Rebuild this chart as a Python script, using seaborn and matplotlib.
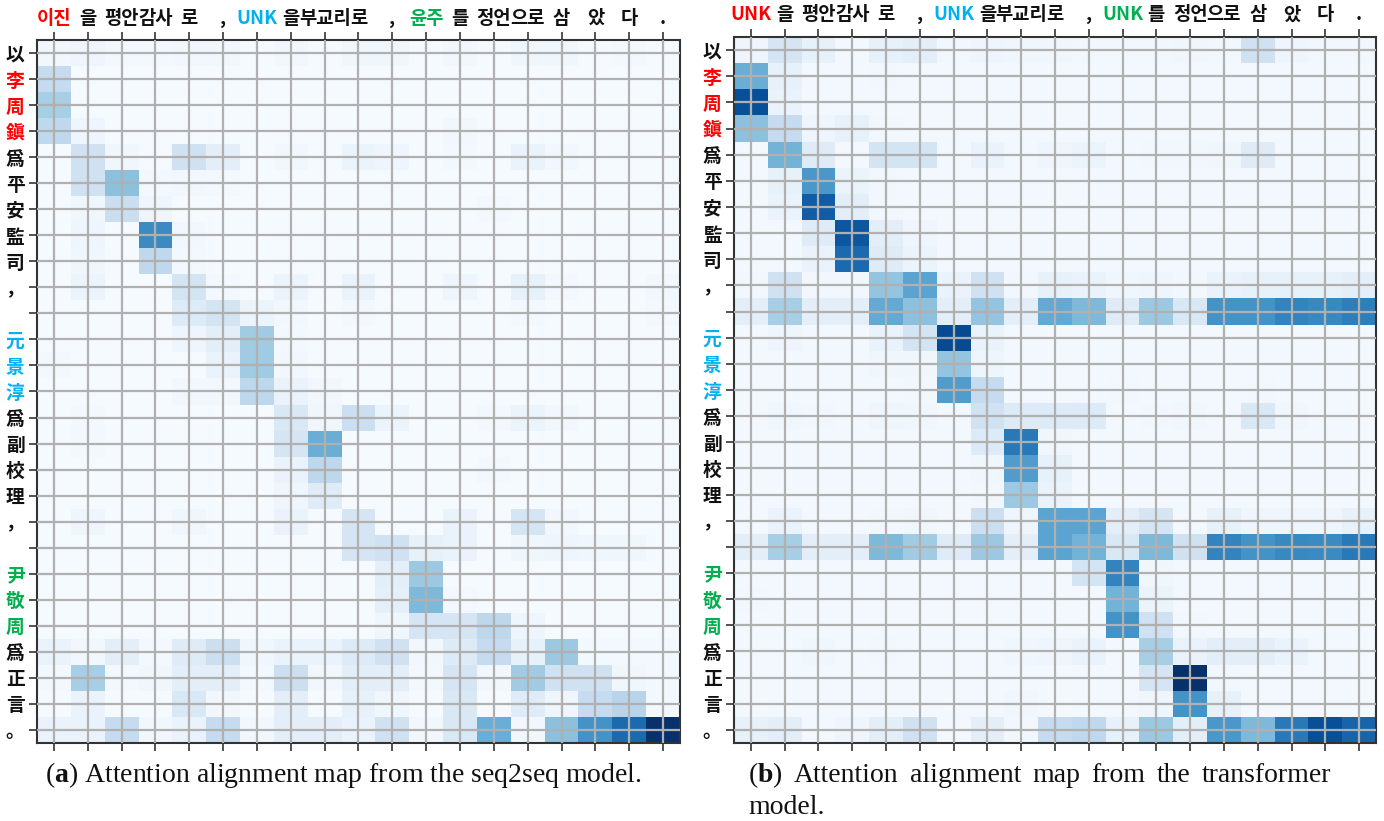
import numpy as np
import matplotlib
matplotlib.use('Agg')
import matplotlib.pyplot as plt
import seaborn as sns

# source (Hanja) tokens, rows of both maps
src_tokens = ['以', '李', '周', '鎭', '爲', '平', '安', '監', '司', '，', '',
              '元', '景', '淳', '爲', '副', '校', '理', '，', '',
              '尹', '敬', '周', '爲', '正', '言', '。']
src_colors = ['k', 'r', 'r', 'r', 'k', 'k', 'k', 'k', 'k', 'k', 'k',
              'b', 'b', 'b', 'k', 'k', 'k', 'k', 'k', 'k',
              'g', 'g', 'g', 'k', 'k', 'k', 'k']

# target (Korean) tokens
tgt_seq2seq = ['이진', '을', '평안', '감사', '로', ',', 'UNK', '을', '부교리', '로', ',',
               '윤주', '를', '정언', '으로', '삼', '았', '다', '.']
tgt_transformer = ['UNK', '을', '평안', '감사', '로', ',', 'UNK', '을', '부교리', '로', ',',
                   'UNK', '를', '정언', '으로', '삼', '았', '다', '.']
tgt_colors = ['r', 'k', 'k', 'k', 'k', 'k', 'b', 'k', 'k', 'k', 'k',
              'g', 'k', 'k', 'k', 'k', 'k', 'k', 'k']

palette = {'k': '#111111', 'r': '#ff0000', 'b': '#00b0f0', 'g': '#00b050'}

seq2seq_attn = [
    [.03, .05, .02, .02, .03, .03, .01, .03, .01, .04, .04, .01, .03, .01, .04, .04, .01, .02, .01],
    [.25, .01, .01, .01, .01, .01, .01, .01, .01, .01, .01, .01, .01, .01, .01, .01, .01, .01, .01],
    [.35, .01, .01, .01, .01, .01, .01, .01, .01, .01, .01, .01, .01, .01, .01, .01, .01, .01, .01],
    [.27, .05, .01, .01, .01, .01, .01, .01, .01, .01, .01, .01, .03, .01, .01, .01, .01, .01, .01],
    [.01, .20, .04, .01, .20, .10, .01, .03, .01, .06, .05, .01, .02, .01, .07, .03, .01, .01, .01],
    [.01, .20, .42, .02, .03, .02, .01, .01, .01, .01, .01, .01, .01, .01, .01, .01, .01, .01, .01],
    [.01, .04, .23, .05, .01, .01, .01, .01, .01, .01, .01, .01, .01, .02, .01, .01, .01, .01, .01],
    [.01, .05, .01, .65, .03, .01, .01, .01, .01, .01, .01, .01, .01, .01, .01, .01, .01, .01, .01],
    [.01, .04, .01, .27, .02, .01, .01, .01, .01, .01, .01, .01, .01, .01, .01, .01, .01, .01, .01],
    [.01, .06, .01, .01, .18, .02, .01, .06, .01, .07, .01, .01, .05, .01, .08, .02, .01, .01, .03],
    [.01, .01, .01, .01, .13, .18, .06, .03, .01, .02, .01, .01, .01, .01, .02, .01, .01, .01, .02],
    [.01, .01, .01, .01, .05, .10, .37, .02, .01, .01, .01, .01, .01, .01, .01, .01, .01, .01, .01],
    [.02, .01, .01, .01, .01, .07, .37, .03, .01, .01, .01, .01, .01, .01, .01, .01, .01, .01, .01],
    [.01, .01, .01, .01, .03, .03, .28, .07, .03, .01, .01, .01, .01, .01, .01, .01, .01, .01, .01],
    [.01, .02, .01, .01, .01, .01, .01, .15, .04, .22, .06, .01, .01, .02, .06, .03, .01, .01, .01],
    [.01, .02, .01, .01, .01, .01, .01, .17, .50, .01, .01, .01, .01, .01, .01, .01, .01, .01, .01],
    [.01, .01, .01, .01, .01, .01, .01, .07, .28, .01, .01, .01, .01, .02, .01, .01, .01, .01, .01],
    [.01, .01, .01, .01, .01, .01, .01, .05, .12, .01, .01, .01, .01, .01, .01, .01, .01, .01, .01],
    [.01, .05, .01, .01, .04, .01, .01, .07, .01, .17, .01, .01, .07, .01, .17, .03, .01, .01, .01],
    [.01, .01, .01, .01, .01, .01, .01, .01, .01, .17, .20, .08, .07, .01, .04, .05, .04, .04, .01],
    [.01, .01, .01, .01, .01, .01, .01, .01, .01, .01, .10, .38, .01, .01, .01, .01, .01, .01, .01],
    [.01, .01, .01, .01, .01, .01, .01, .01, .01, .01, .09, .45, .02, .01, .01, .01, .01, .01, .01],
    [.01, .01, .01, .01, .01, .01, .01, .01, .01, .01, .04, .17, .17, .28, .05, .01, .01, .01, .01],
    [.07, .03, .10, .02, .12, .22, .04, .07, .07, .13, .20, .03, .13, .25, .08, .38, .02, .02, .02],
    [.02, .35, .02, .04, .10, .10, .02, .22, .03, .10, .10, .02, .17, .03, .37, .20, .20, .04, .02],
    [.01, .07, .01, .01, .15, .03, .01, .10, .01, .08, .04, .01, .15, .01, .12, .05, .25, .30, .02],
    [.07, .07, .25, .03, .07, .25, .03, .10, .10, .07, .20, .03, .15, .50, .03, .42, .62, .78, 1.0],
]

transformer_attn = [
    [.05, .17, .08, .02, .08, .10, .03, .05, .04, .04, .03, .03, .03, .04, .03, .20, .05, .03, .03],
    [.50, .08, .02, .02, .03, .02, .02, .02, .02, .02, .02, .02, .02, .02, .02, .02, .02, .02, .02],
    [.88, .07, .02, .02, .02, .02, .02, .02, .02, .02, .02, .02, .02, .02, .02, .02, .02, .02, .02],
    [.42, .25, .05, .08, .03, .02, .02, .02, .02, .02, .02, .02, .02, .02, .02, .02, .02, .02, .02],
    [.02, .48, .12, .02, .18, .18, .02, .07, .02, .05, .06, .02, .03, .03, .04, .12, .02, .02, .02],
    [.02, .08, .60, .06, .03, .02, .02, .02, .02, .02, .02, .02, .02, .02, .02, .02, .02, .02, .02],
    [.02, .07, .83, .10, .03, .02, .02, .02, .02, .02, .02, .02, .02, .02, .02, .02, .02, .02, .02],
    [.02, .02, .12, .85, .10, .05, .02, .02, .02, .02, .02, .02, .02, .02, .02, .02, .02, .02, .02],
    [.02, .02, .07, .78, .12, .06, .02, .02, .02, .02, .02, .02, .02, .02, .02, .02, .02, .02, .02],
    [.03, .20, .03, .03, .40, .55, .07, .20, .03, .08, .07, .04, .05, .03, .07, .08, .08, .08, .10],
    [.10, .35, .10, .10, .52, .42, .10, .40, .10, .52, .45, .12, .38, .15, .62, .62, .68, .66, .70],
    [.02, .05, .02, .02, .07, .18, .90, .07, .02, .02, .02, .02, .02, .02, .02, .02, .02, .02, .02],
    [.02, .02, .02, .02, .04, .04, .40, .05, .02, .02, .02, .02, .02, .02, .02, .02, .02, .02, .02],
    [.02, .02, .02, .02, .02, .03, .58, .25, .02, .02, .02, .03, .02, .02, .02, .03, .02, .02, .02],
    [.02, .04, .03, .02, .05, .04, .02, .20, .13, .13, .13, .02, .03, .04, .02, .15, .04, .02, .02],
    [.02, .02, .02, .02, .02, .02, .02, .13, .72, .04, .02, .02, .02, .02, .02, .02, .02, .02, .02],
    [.02, .02, .02, .02, .02, .02, .02, .04, .58, .08, .02, .02, .02, .02, .02, .02, .02, .02, .02],
    [.02, .02, .02, .02, .02, .02, .02, .03, .38, .07, .02, .02, .02, .02, .02, .02, .02, .02, .02],
    [.02, .07, .02, .02, .03, .04, .02, .22, .05, .55, .55, .10, .17, .02, .08, .05, .05, .05, .08],
    [.10, .35, .10, .10, .45, .37, .12, .38, .10, .55, .48, .15, .45, .20, .68, .62, .66, .65, .72],
    [.02, .02, .02, .02, .02, .02, .02, .02, .02, .02, .18, .68, .04, .02, .02, .02, .02, .02, .02],
    [.03, .02, .02, .02, .02, .02, .02, .02, .02, .02, .02, .48, .06, .02, .02, .02, .02, .02, .02],
    [.02, .02, .02, .02, .02, .02, .02, .02, .02, .02, .02, .62, .20, .03, .02, .02, .02, .02, .02],
    [.02, .02, .04, .02, .03, .02, .02, .02, .04, .05, .07, .02, .35, .07, .10, .10, .07, .02, .02],
    [.02, .02, .02, .02, .02, .02, .02, .02, .02, .02, .02, .02, .17, 1.0, .03, .02, .02, .02, .02],
    [.02, .02, .02, .02, .02, .02, .02, .02, .04, .02, .02, .02, .05, .62, .08, .02, .02, .02, .02],
    [.08, .10, .02, .05, .10, .20, .02, .10, .03, .25, .27, .08, .38, .10, .60, .45, .72, .88, .80],
]

sns.set_theme(style='white')
plt.rcParams['font.family'] = ['Noto Sans CJK KR', 'DejaVu Sans']
plt.rcParams['mathtext.fontset'] = 'custom'
plt.rcParams['mathtext.rm'] = 'Liberation Serif'
plt.rcParams['mathtext.bf'] = 'Liberation Serif:bold'

W, H = 1384, 821
fig = plt.figure(figsize=(W / 100, H / 100), dpi=100)
ax1 = fig.add_axes([37 / W, 1 - 743 / H, (680 - 37) / W, (743 - 40) / H])
ax2 = fig.add_axes([734 / W, 1 - 743 / H, (1376 - 734) / W, (743 - 37) / H])


def draw_map(ax, attn, xlabels):
    sns.heatmap(np.array(attn), ax=ax, cmap='Blues', vmin=0, vmax=1, cbar=False,
                xticklabels=False, yticklabels=False)
    ax.set_xticks(np.arange(len(xlabels)) + 0.5)
    ax.set_yticks(np.arange(len(src_tokens)) + 0.5)
    ax.set_xticklabels(xlabels, fontsize=13.5, fontweight='bold', rotation=0)
    ax.set_yticklabels(src_tokens, fontsize=13.5, fontweight='bold', rotation=0)
    ax.tick_params(axis='x', top=True, bottom=True, labeltop=True, labelbottom=False,
                   length=6, width=1.2, color='#333333', direction='out', pad=3)
    ax.tick_params(axis='y', left=True, right=False, length=6, width=1.2,
                   color='#333333', direction='out', pad=3)
    for lab, c in zip(ax.get_xticklabels(), tgt_colors):
        lab.set_color(palette[c])
    for lab, c in zip(ax.get_yticklabels(), src_colors):
        lab.set_color(palette[c])
    ax.grid(True, color='#b0b0b0', linewidth=1.6)
    ax.set_axisbelow(False)
    for sp in ax.spines.values():
        sp.set_visible(True)
        sp.set_color('#333333')
        sp.set_linewidth(1.5)


draw_map(ax1, seq2seq_attn, tgt_seq2seq)
draw_map(ax2, transformer_attn, tgt_transformer)

cap_kw = dict(fontsize=20, family='Liberation Serif', color='#111111', va='baseline')
fig.text(45 / W, 1 - 782 / H, r'($\mathbf{a}$) Attention alignment map from the seq2seq model.', **cap_kw)

# justified first line of caption (b)
words = [r'($\mathbf{b}$)', 'Attention', 'alignment', 'map', 'from', 'the', 'transformer']
x0, x1 = 748 / W, 1331 / W
texts = [fig.text(x0, 1 - 782 / H, w, **cap_kw) for w in words]
fig.canvas.draw()
rend = fig.canvas.get_renderer()
widths = [t.get_window_extent(rend).width / W for t in texts]
gap = (x1 - x0 - sum(widths)) / (len(words) - 1)
x = x0
for t, w in zip(texts, widths):
    t.set_x(x)
    x += w + gap
fig.text(748 / W, 1 - 814 / H, 'model.', **cap_kw)

fig.savefig('out.png', dpi=100)
